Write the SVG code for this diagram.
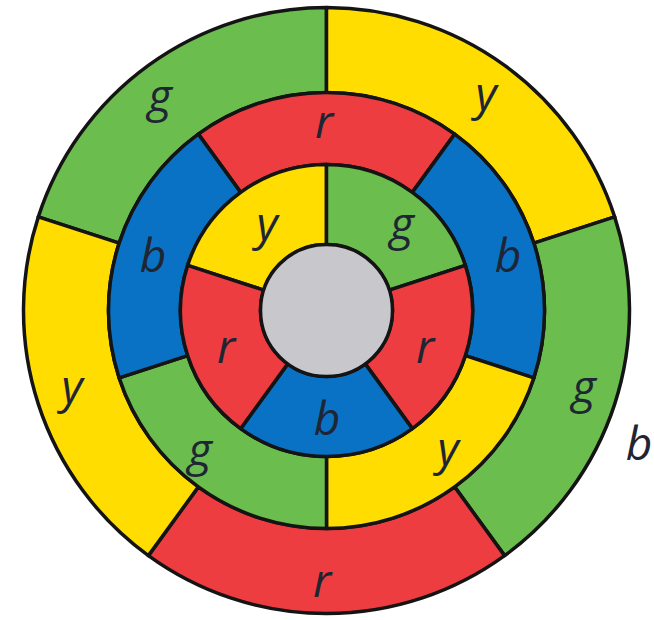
<svg xmlns="http://www.w3.org/2000/svg" width="654" height="620" viewBox="0 0 654 620">
<style>
.s{stroke:#141414;stroke-width:3.5;stroke-linejoin:round}
.g{fill:#6bbd4e}.y{fill:#ffdd00}.r{fill:#ee3d41}.b{fill:#0a72c4}.c{fill:#c8c8cc}
.t{font-family:"Open Sans","Noto Sans","DejaVu Sans",sans-serif;font-style:italic;font-size:46px;fill:#1e2633;text-anchor:middle}
</style>
<rect width="654" height="620" fill="#ffffff"/>
<g id="outer-ring">
<g id="outer-g-top"><path class="s g" d="M326.5,7.5 A303,303 0 0 0 38.33,216.87 L119.17,243.13 A218,218 0 0 1 326.5,92.5 Z"/><text class="t" x="160" y="112">g</text></g>
<g id="outer-y-top"><path class="s y" d="M614.67,216.87 A303,303 0 0 0 326.5,7.5 L326.5,92.5 A218,218 0 0 1 533.83,243.13 Z"/><text class="t" x="486" y="110">y</text></g>
<g id="outer-g-right"><path class="s g" d="M504.6,555.63 A303,303 0 0 0 614.67,216.87 L533.83,243.13 A218,218 0 0 1 454.64,486.87 Z"/><text class="t" x="584" y="403">g</text></g>
<g id="outer-r-bottom"><path class="s r" d="M148.4,555.63 A303,303 0 0 0 504.6,555.63 L454.64,486.87 A218,218 0 0 1 198.36,486.87 Z"/><text class="t" x="322" y="597">r</text></g>
<g id="outer-y-left"><path class="s y" d="M38.33,216.87 A303,303 0 0 0 148.4,555.63 L198.36,486.87 A218,218 0 0 1 119.17,243.13 Z"/><text class="t" x="72" y="403">y</text></g>
</g>
<g id="middle-ring">
<g id="middle-r-top"><path class="s r" d="M454.64,134.13 A218,218 0 0 0 198.36,134.13 L240.68,192.38 A146,146 0 0 1 412.32,192.38 Z"/><text class="t" x="324" y="138">r</text></g>
<g id="middle-b-right"><path class="s b" d="M533.83,377.87 A218,218 0 0 0 454.64,134.13 L412.32,192.38 A146,146 0 0 1 465.35,355.62 Z"/><text class="t" x="508" y="272">b</text></g>
<g id="middle-y-bottom"><path class="s y" d="M326.5,528.5 A218,218 0 0 0 533.83,377.87 L465.35,355.62 A146,146 0 0 1 326.5,456.5 Z"/><text class="t" x="448" y="465">y</text></g>
<g id="middle-g-bottom"><path class="s g" d="M119.17,377.87 A218,218 0 0 0 326.5,528.5 L326.5,456.5 A146,146 0 0 1 187.65,355.62 Z"/><text class="t" x="200" y="466">g</text></g>
<g id="middle-b-left"><path class="s b" d="M198.36,134.13 A218,218 0 0 0 119.17,377.87 L187.65,355.62 A146,146 0 0 1 240.68,192.38 Z"/><text class="t" x="153" y="272">b</text></g>
</g>
<g id="inner-ring">
<g id="inner-y"><path class="s y" d="M326.5,164.5 A146,146 0 0 0 187.65,265.38 L263.73,290.1 A66,66 0 0 1 326.5,244.5 Z"/><text class="t" x="267" y="240">y</text></g>
<g id="inner-g"><path class="s g" d="M465.35,265.38 A146,146 0 0 0 326.5,164.5 L326.5,244.5 A66,66 0 0 1 389.27,290.1 Z"/><text class="t" x="402" y="240">g</text></g>
<g id="inner-r-right"><path class="s r" d="M412.32,428.62 A146,146 0 0 0 465.35,265.38 L389.27,290.1 A66,66 0 0 1 365.29,363.89 Z"/><text class="t" x="425" y="363">r</text></g>
<g id="inner-b-bottom"><path class="s b" d="M240.68,428.62 A146,146 0 0 0 412.32,428.62 L365.29,363.89 A66,66 0 0 1 287.71,363.89 Z"/><text class="t" x="327" y="435">b</text></g>
<g id="inner-r-left"><path class="s r" d="M187.65,265.38 A146,146 0 0 0 240.68,428.62 L287.71,363.89 A66,66 0 0 1 263.73,290.1 Z"/><text class="t" x="226" y="363">r</text></g>
</g>
<g id="center"><circle class="s c" cx="326.5" cy="310.5" r="66"/></g>
<g id="outside-label"><text class="t" x="639" y="460">b</text></g>
</svg>
